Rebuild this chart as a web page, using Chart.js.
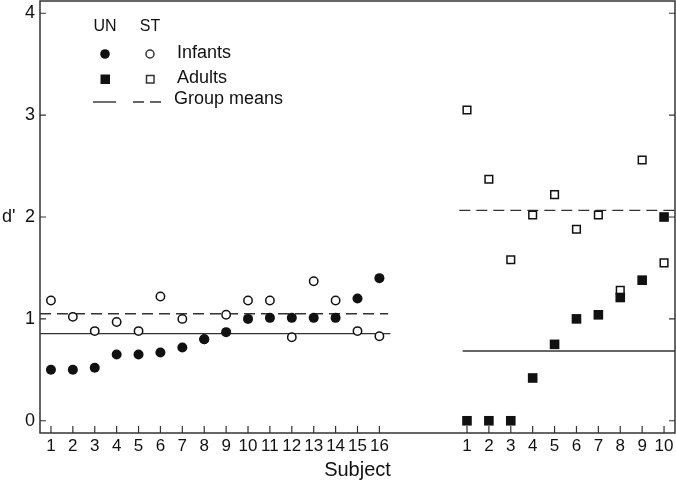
<!DOCTYPE html>
<html lang="en">
<head>
    <meta charset="UTF-8">
    <title>d' per subject</title>
    <script src="https://cdn.jsdelivr.net/npm/chart.js"></script>
    <style>
        body { margin: 0; background: #fff; }
        #wrap { width: 676px; height: 482px; }
    </style>
</head>
<body>
    <div id="wrap"><canvas id="dChart" width="676" height="482"></canvas></div>

    <script>
        // data
        const infantSubjects = [1, 2, 3, 4, 5, 6, 7, 8, 9, 10, 11, 12, 13, 14, 15, 16];
        const adultSubjects = [1, 2, 3, 4, 5, 6, 7, 8, 9, 10];
        const infantUN = [0.50, 0.50, 0.52, 0.65, 0.65, 0.67, 0.72, 0.80, 0.87, 1.00, 1.01, 1.01, 1.01, 1.01, 1.20, 1.40];
        const infantST = [1.18, 1.02, 0.88, 0.97, 0.88, 1.22, 1.00, 0.80, 1.04, 1.18, 1.18, 0.82, 1.37, 1.18, 0.88, 0.83];
        const adultUN = [0.00, 0.00, 0.00, 0.42, 0.75, 1.00, 1.04, 1.21, 1.38, 2.00];
        const adultST = [3.05, 2.37, 1.58, 2.02, 2.22, 1.88, 2.02, 1.28, 2.56, 1.55];
        const meanUN = [0.855, 0.685];   // infants, adults
        const meanST = [1.05, 2.065];
        const yTicks = [0, 1, 2, 3, 4];

        const adultOffset = 19; // adults drawn after a gap
        const ink = '#111';
        const lineInk = '#333';
        const font = '"Liberation Sans", Arial, sans-serif';

        const pts = (subs, vals, off) => subs.map((s, i) => ({ x: s + off, y: vals[i] }));
        const xTickVals = infantSubjects.concat(adultSubjects.map(s => s + adultOffset));
        const xMin = 0.5, xMax = adultSubjects[adultSubjects.length - 1] + adultOffset + 0.5;
        const infEnd = infantSubjects[infantSubjects.length - 1] + 0.5;
        const adStart = adultOffset + 0.7;

        function meanLine(y0, y1, dashed, x0, x1) {
            return {
                type: 'line', data: [{ x: x0, y: y0 }, { x: x1, y: y1 }],
                borderColor: lineInk, borderWidth: 1.4, borderDash: dashed ? [11, 6] : [],
                pointRadius: 0, showLine: true, order: 10
            };
        }

        const noPad = s => { s.getPadding = () => ({ left: 0, top: 0, right: 0, bottom: 0 }); };

        // frame, inward ticks, y title and the legend
        const decor = {
            id: 'decor',
            afterDraw(chart) {
                const ctx = chart.ctx, a = chart.chartArea;
                const xs = chart.scales.x, ys = chart.scales.y;
                ctx.save();
                ctx.strokeStyle = lineInk;
                ctx.lineWidth = 1.5;
                ctx.strokeRect(a.left, a.top, a.right - a.left, a.bottom - a.top);
                ctx.lineWidth = 1.2;
                ctx.beginPath();
                xs.ticks.forEach(t => {
                    const px = xs.getPixelForValue(t.value);
                    ctx.moveTo(px, a.bottom); ctx.lineTo(px, a.bottom - 7);
                });
                ys.ticks.forEach(t => {
                    const py = ys.getPixelForValue(t.value);
                    ctx.moveTo(a.left, py); ctx.lineTo(a.left + 6, py);
                    ctx.moveTo(a.right, py); ctx.lineTo(a.right - 6, py);
                });
                ctx.stroke();

                ctx.fillStyle = ink;
                ctx.textBaseline = 'middle';
                ctx.textAlign = 'left';
                ctx.font = '18px ' + font;
                ctx.fillText("d'", 2, ys.getPixelForValue(2));

                // legend
                ctx.font = '16px ' + font;
                ctx.textAlign = 'center';
                ctx.fillText('UN', 105, 27);
                ctx.fillText('ST', 150, 27);
                ctx.textAlign = 'left';
                ctx.font = '18px ' + font;
                ctx.fillText('Infants', 177, 53);
                ctx.fillText('Adults', 177, 78);
                ctx.fillText('Group means', 174, 99);

                ctx.beginPath(); ctx.arc(105, 54, 4.8, 0, Math.PI * 2); ctx.fill();
                ctx.lineWidth = 1.5;
                ctx.beginPath(); ctx.arc(150, 54, 4, 0, Math.PI * 2); ctx.stroke();
                ctx.fillRect(100.5, 74.5, 9.5, 9.5);
                ctx.strokeRect(146.5, 75.5, 7.5, 7.5);
                ctx.lineWidth = 1.4;
                ctx.beginPath(); ctx.moveTo(93, 102); ctx.lineTo(116, 102); ctx.stroke();
                ctx.setLineDash([11, 6]);
                ctx.beginPath(); ctx.moveTo(133, 102); ctx.lineTo(167, 102); ctx.stroke();
                ctx.restore();
            }
        };

        new Chart(document.getElementById('dChart'), {
            type: 'scatter',
            data: {
                datasets: [
                    { data: pts(infantSubjects, infantUN, 0), pointStyle: 'circle', pointRadius: 5,
                      backgroundColor: ink, borderColor: ink, borderWidth: 0, order: 1 },
                    { data: pts(adultSubjects, adultUN, adultOffset), pointStyle: 'rect', pointRadius: 6.8,
                      backgroundColor: ink, borderColor: ink, borderWidth: 0, order: 2 },
                    { data: pts(infantSubjects, infantST, 0), pointStyle: 'circle', pointRadius: 4.2,
                      backgroundColor: '#fff', borderColor: ink, borderWidth: 1.5, order: 3 },
                    { data: pts(adultSubjects, adultST, adultOffset), pointStyle: 'rect', pointRadius: 5.4,
                      backgroundColor: '#fff', borderColor: ink, borderWidth: 1.5, order: 4 },
                    meanLine(meanUN[0], meanUN[0], false, xMin, infEnd),
                    meanLine(meanST[0], meanST[0], true, xMin, infEnd - 0.1),
                    meanLine(meanUN[1], meanUN[1], false, adStart + 0.1, xMax),
                    meanLine(meanST[1], meanST[1], true, adStart - 0.05, xMax)
                ]
            },
            options: {
                responsive: false,
                animation: false,
                layout: { autoPadding: false, padding: { top: 1, right: 1 } },
                plugins: { legend: { display: false }, tooltip: { enabled: false } },
                elements: { point: { hoverRadius: 0 } },
                scales: {
                    x: {
                        type: 'linear', min: xMin, max: xMax,
                        afterBuildTicks: s => { s.ticks = xTickVals.map(v => ({ value: v })); },
                        afterFit: s => { s.height = 49; noPad(s); },
                        grid: { display: false, drawTicks: false },
                        border: { display: false },
                        ticks: {
                            padding: 3, color: ink, maxRotation: 0, autoSkip: false,
                            font: { family: font, size: 17 },
                            callback: v => (v > adultOffset ? v - adultOffset : v)
                        },
                        title: {
                            display: true, text: 'Subject', color: ink,
                            font: { family: font, size: 20 }, padding: { top: 0, bottom: 0 }
                        }
                    },
                    y: {
                        type: 'linear', min: -0.12, max: 4.12,
                        afterBuildTicks: s => { s.ticks = yTicks.map(v => ({ value: v })); },
                        afterFit: s => { s.width = 40; noPad(s); },
                        grid: { display: false, drawTicks: false },
                        border: { display: false },
                        ticks: { padding: 5, color: ink, font: { family: font, size: 18 } }
                    }
                }
            },
            plugins: [decor]
        });
    </script>
</body>
</html>
